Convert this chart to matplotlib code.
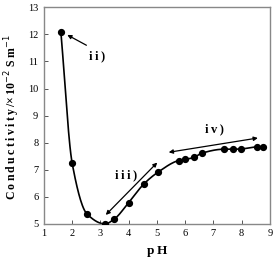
import numpy as np
import matplotlib
matplotlib.use('Agg')
import matplotlib.pyplot as plt

# Conductivity vs pH
ph = [1.60, 2.00, 2.53, 3.16, 3.49, 4.00, 4.55, 5.05, 5.77, 5.99, 6.32, 6.58,
      7.38, 7.70, 7.99, 8.53, 8.76]
cond = [12.09, 7.24, 5.36, 5.00, 5.18, 5.79, 6.49, 6.92, 7.34, 7.38, 7.46, 7.61,
        7.76, 7.76, 7.77, 7.84, 7.84]

x_ticks = [1, 2, 3, 4, 5, 6, 7, 8, 9]
y_ticks = [5, 6, 7, 8, 9, 10, 11, 12, 13]

serif = ['Liberation Serif', 'DejaVu Serif']
ts = '\u2009'


def spaced(s):
    return ts.join(s)


def pchip(xs, ys, n=25):
    # monotone cubic curve through the measured points (drawing only)
    x = np.asarray(xs, float)
    y = np.asarray(ys, float)
    h = np.diff(x)
    d = np.diff(y) / h
    m = np.zeros_like(y)
    for k in range(1, len(x) - 1):
        if d[k - 1] * d[k] > 0:
            w1 = 2 * h[k] + h[k - 1]
            w2 = h[k] + 2 * h[k - 1]
            m[k] = (w1 + w2) / (w1 / d[k - 1] + w2 / d[k])
    m[0] = d[0]
    m[-1] = d[-1]
    px, py = [], []
    for k in range(len(x) - 1):
        t = np.linspace(0, 1, n, endpoint=False)
        h00 = 2 * t ** 3 - 3 * t ** 2 + 1
        h10 = t ** 3 - 2 * t ** 2 + t
        h01 = -2 * t ** 3 + 3 * t ** 2
        h11 = t ** 3 - t ** 2
        px.append(x[k] + t * h[k])
        py.append(h00 * y[k] + h10 * h[k] * m[k] + h01 * y[k + 1] + h11 * h[k] * m[k + 1])
    px.append([x[-1]])
    py.append([y[-1]])
    return np.concatenate(px), np.concatenate(py)


fig = plt.figure(figsize=(2.78, 2.61), dpi=100)
ax = fig.add_axes([0.158, 0.142, 0.813, 0.830])

sx, sy = pchip(ph, cond)
ax.plot(sx, sy, color='black', lw=1.2, zorder=2)
ax.plot(ph, cond, 'o', color='black', ms=4.2, zorder=3)

ax.set_xlim(1, 9)
ax.set_ylim(5, 13)
ax.set_xticks(x_ticks)
ax.set_yticks(y_ticks)
ax.tick_params(direction='in', length=3, width=0.7, colors='#555555',
               labelsize=7.5, labelcolor='black', pad=4)
for lab in ax.get_xticklabels() + ax.get_yticklabels():
    lab.set_family(serif)
for s in ax.spines.values():
    s.set_color('#888888')
    s.set_linewidth(1.0)

# annotations
arrow = dict(arrowstyle='-|>', color='black', lw=0.9, mutation_scale=6)
darrow = dict(arrowstyle='<|-|>', color='black', lw=0.9, mutation_scale=6)
lab_kw = dict(fontsize=9, fontweight='bold', family=serif, ha='center', va='center')
ax.annotate('', xy=(1.74, 12.03), xytext=(2.59, 11.55), arrowprops=arrow)
ax.text(2.87, 11.18, spaced('ii)'), **lab_kw)
ax.annotate('', xy=(3.12, 5.26), xytext=(5.08, 7.34), arrowprops=darrow)
ax.text(3.89, 6.81, spaced('iii)'), **lab_kw)
ax.annotate('', xy=(5.32, 7.63), xytext=(8.67, 8.19), arrowprops=darrow)
ax.text(7.02, 8.50, spaced('iv)'), **lab_kw)

ax.set_xlabel(spaced('pH'), fontsize=9.5, fontweight='bold', family=serif, labelpad=5)
fig.text(0.045, 0.55,
         spaced('Conductivity/') + '\u00d7' + ts + '10$^{-2}$ S m$^{-1}$',
         rotation=90, fontsize=8.5, fontweight='bold', family=serif,
         ha='center', va='center')

fig.savefig('out.png', dpi=100)
